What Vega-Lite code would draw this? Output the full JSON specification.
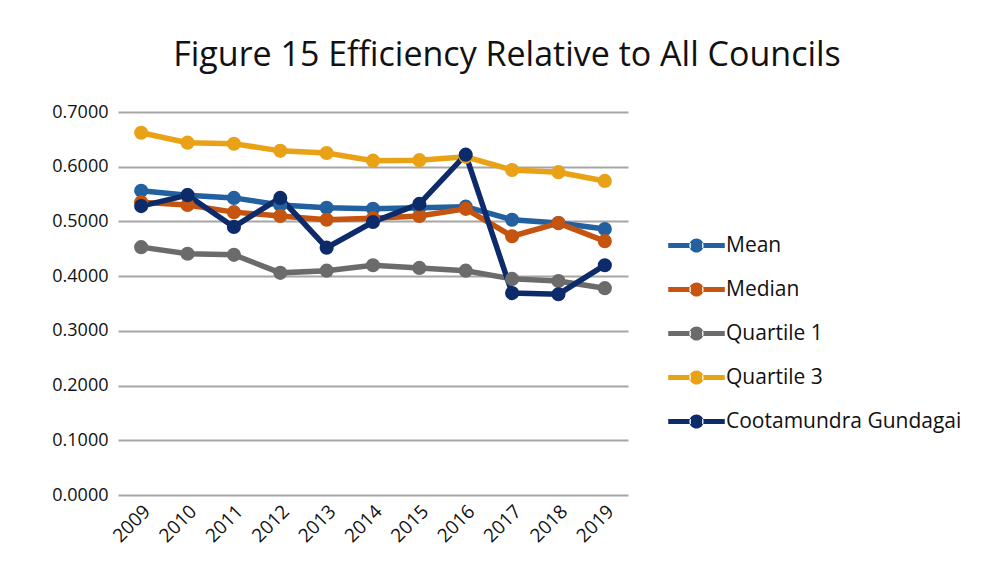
{
  "$schema": "https://vega.github.io/schema/vega-lite/v6.json",
  "width": 510,
  "height": 383,
  "autosize": {"type": "none"},
  "padding": {"left": 118, "top": 112, "right": 363, "bottom": 79},
  "background": "white",
  "title": {
    "text": "Figure 15 Efficiency Relative to All Councils",
    "font": "Open Sans",
    "fontSize": 34,
    "fontWeight": "normal",
    "color": "#111111",
    "anchor": "middle",
    "dx": 134,
    "offset": 30
  },
  "config": {
    "view": {"stroke": null},
    "font": "Open Sans"
  },
  "data": {
    "values": [
      {"year": "2009", "series": "Mean", "value": 0.556},
      {"year": "2010", "series": "Mean", "value": 0.548},
      {"year": "2011", "series": "Mean", "value": 0.543},
      {"year": "2012", "series": "Mean", "value": 0.530},
      {"year": "2013", "series": "Mean", "value": 0.525},
      {"year": "2014", "series": "Mean", "value": 0.523},
      {"year": "2015", "series": "Mean", "value": 0.525},
      {"year": "2016", "series": "Mean", "value": 0.527},
      {"year": "2017", "series": "Mean", "value": 0.503},
      {"year": "2018", "series": "Mean", "value": 0.497},
      {"year": "2019", "series": "Mean", "value": 0.486},
      {"year": "2009", "series": "Median", "value": 0.535},
      {"year": "2010", "series": "Median", "value": 0.530},
      {"year": "2011", "series": "Median", "value": 0.517},
      {"year": "2012", "series": "Median", "value": 0.510},
      {"year": "2013", "series": "Median", "value": 0.503},
      {"year": "2014", "series": "Median", "value": 0.506},
      {"year": "2015", "series": "Median", "value": 0.510},
      {"year": "2016", "series": "Median", "value": 0.523},
      {"year": "2017", "series": "Median", "value": 0.473},
      {"year": "2018", "series": "Median", "value": 0.497},
      {"year": "2019", "series": "Median", "value": 0.464},
      {"year": "2009", "series": "Quartile 1", "value": 0.453},
      {"year": "2010", "series": "Quartile 1", "value": 0.441},
      {"year": "2011", "series": "Quartile 1", "value": 0.439},
      {"year": "2012", "series": "Quartile 1", "value": 0.406},
      {"year": "2013", "series": "Quartile 1", "value": 0.410},
      {"year": "2014", "series": "Quartile 1", "value": 0.420},
      {"year": "2015", "series": "Quartile 1", "value": 0.415},
      {"year": "2016", "series": "Quartile 1", "value": 0.410},
      {"year": "2017", "series": "Quartile 1", "value": 0.395},
      {"year": "2018", "series": "Quartile 1", "value": 0.391},
      {"year": "2019", "series": "Quartile 1", "value": 0.378},
      {"year": "2009", "series": "Quartile 3", "value": 0.662},
      {"year": "2010", "series": "Quartile 3", "value": 0.644},
      {"year": "2011", "series": "Quartile 3", "value": 0.642},
      {"year": "2012", "series": "Quartile 3", "value": 0.629},
      {"year": "2013", "series": "Quartile 3", "value": 0.625},
      {"year": "2014", "series": "Quartile 3", "value": 0.611},
      {"year": "2015", "series": "Quartile 3", "value": 0.612},
      {"year": "2016", "series": "Quartile 3", "value": 0.618},
      {"year": "2017", "series": "Quartile 3", "value": 0.594},
      {"year": "2018", "series": "Quartile 3", "value": 0.590},
      {"year": "2019", "series": "Quartile 3", "value": 0.574},
      {"year": "2009", "series": "Cootamundra Gundagai", "value": 0.528},
      {"year": "2010", "series": "Cootamundra Gundagai", "value": 0.548},
      {"year": "2011", "series": "Cootamundra Gundagai", "value": 0.490},
      {"year": "2012", "series": "Cootamundra Gundagai", "value": 0.543},
      {"year": "2013", "series": "Cootamundra Gundagai", "value": 0.452},
      {"year": "2014", "series": "Cootamundra Gundagai", "value": 0.499},
      {"year": "2015", "series": "Cootamundra Gundagai", "value": 0.532},
      {"year": "2016", "series": "Cootamundra Gundagai", "value": 0.622},
      {"year": "2017", "series": "Cootamundra Gundagai", "value": 0.369},
      {"year": "2018", "series": "Cootamundra Gundagai", "value": 0.367},
      {"year": "2019", "series": "Cootamundra Gundagai", "value": 0.420}
    ]
  },
  "encoding": {
    "x": {
      "field": "year",
      "type": "ordinal",
      "scale": {"type": "band", "paddingInner": 0, "paddingOuter": 0},
      "axis": {
        "title": null,
        "domain": false,
        "ticks": false,
        "labelAngle": -45,
        "labelFontSize": 19,
        "labelColor": "#111111",
        "labelPadding": 13,
        "labelAlign": "right",
        "labelBaseline": "middle",
        "labelOffset": 6
      }
    },
    "y": {
      "field": "value",
      "type": "quantitative",
      "scale": {"domain": [0, 0.7], "nice": false},
      "axis": {
        "title": null,
        "domain": false,
        "ticks": false,
        "values": [0, 0.1, 0.2, 0.3, 0.4, 0.5, 0.6, 0.7],
        "format": ".4f",
        "labelFontSize": 18,
        "labelColor": "#111111",
        "labelPadding": 10,
        "gridColor": "#a6a6a6",
        "gridWidth": 2
      }
    },
    "color": {
      "field": "series",
      "type": "nominal",
      "sort": ["Mean", "Median", "Quartile 1", "Quartile 3", "Cootamundra Gundagai"],
      "scale": {
        "domain": ["Mean", "Median", "Quartile 1", "Quartile 3", "Cootamundra Gundagai"],
        "range": ["#22609f", "#c4540f", "#6b6b6b", "#e9a215", "#0d2a6a"]
      },
      "legend": {
        "title": null,
        "orient": "none",
        "legendX": 564,
        "legendY": 119,
        "labelFontSize": 21,
        "labelColor": "#111111",
        "labelLimit": 400,
        "rowPadding": 19,
        "labelOffset": 15,
        "symbolType": "M-2,-0.18L-0.4,-0.18L-0.4,0.18L-2,0.18Z M0.4,-0.18L2,-0.18L2,0.18L0.4,0.18Z M-0.5,0A0.5,0.5 0 1,0 0.5,0A0.5,0.5 0 1,0 -0.5,0Z",
        "symbolSize": 800,
        "symbolStrokeWidth": 0,
        "symbolOpacity": 1
      }
    }
  },
  "layer": [
    {
      "mark": {"type": "line", "strokeWidth": 5.5}
    },
    {
      "mark": {"type": "point", "filled": true, "size": 200, "opacity": 1}
    }
  ]
}
